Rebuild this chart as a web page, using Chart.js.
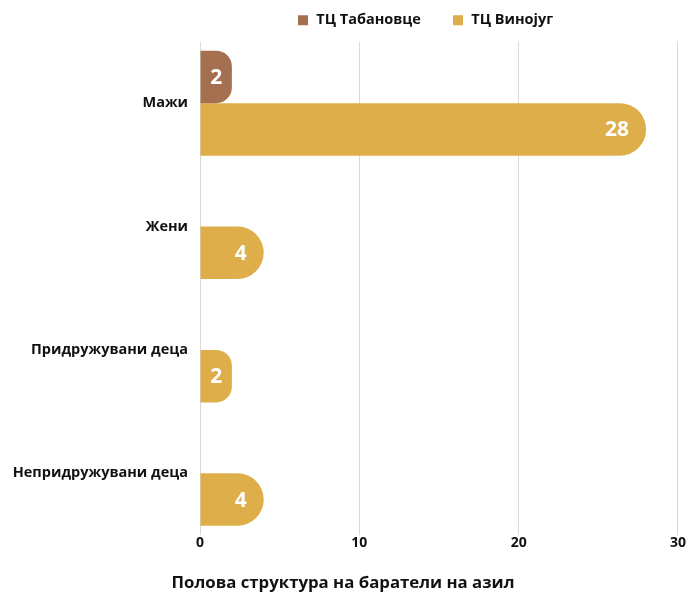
<!DOCTYPE html>
<html>
<head>
<meta charset="utf-8">
<script src="https://cdn.jsdelivr.net/npm/chart.js@4.4.1/dist/chart.umd.min.js"></script>
<style>
  body { margin: 0; background: #fff; }
  #wrap { width: 686px; height: 594px; position: relative; }
</style>
</head>
<body>
<div id="wrap"><canvas id="genderChart"></canvas></div>
<script>
// categories (y axis)
var categories = ['Мажи', 'Жени', 'Придружувани деца', 'Непридружувани деца'];

// series
var seriesNames = ['ТЦ Табановце', 'ТЦ Винојуг'];
var tabanovceValues = [2, null, null, null];
var vinojugValues = [28, 4, 2, 4];

// x axis ticks
var xTicks = [0, 10, 20, 30];

var colors = ['#a5704f', '#ddae4a'];

Chart.defaults.font.family = "'Open Sans', sans-serif";
Chart.defaults.color = '#111';

// white value labels inside the bar ends
var valueLabels = {
    id: 'valueLabels',
    afterDatasetsDraw: function(chart) {
        var ctx = chart.ctx;
        ctx.save();
        ctx.font = "bold 21px 'Open Sans', sans-serif";
        ctx.fillStyle = '#fff';
        ctx.textBaseline = 'middle';
        chart.data.datasets.forEach(function(ds, i) {
            var meta = chart.getDatasetMeta(i);
            meta.data.forEach(function(bar, j) {
                var v = ds.data[j];
                if (v === null || v === undefined) return;
                var w = bar.x - bar.base;
                if (w > 50) {
                    ctx.textAlign = 'right';
                    ctx.fillText(v, bar.x - 17, bar.y + 1);
                } else {
                    ctx.textAlign = 'center';
                    ctx.fillText(v, (bar.x + bar.base) / 2, bar.y + 1);
                }
            });
        });
        ctx.restore();
    }
};

// legend starts at x=297 like the original, text line at y=20
var legendPlace = {
    id: 'legendPlace',
    afterLayout: function(chart) {
        var lg = chart.legend;
        if (!lg || !lg.lineWidths) return;
        var p = lg.options.labels.padding;
        var dx = (594 - lg.left - lg.right - p + lg.lineWidths[0]) / 2;
        lg.left += dx;
        lg.right += dx;
        lg.top -= 4;
        lg.bottom -= 4;
    }
};

var ctx = document.getElementById('genderChart');
new Chart(ctx, {
    type: 'bar',
    data: {
        labels: categories,
        datasets: [{
            label: seriesNames[0],
            data: tabanovceValues,
            backgroundColor: colors[0],
            borderRadius: { topRight: 100, bottomRight: 100, topLeft: 0, bottomLeft: 0 },
            borderSkipped: 'start',
            categoryPercentage: 0.85,
            barPercentage: 1
        }, {
            label: seriesNames[1],
            data: vinojugValues,
            backgroundColor: colors[1],
            borderRadius: { topRight: 100, bottomRight: 100, topLeft: 0, bottomLeft: 0 },
            borderSkipped: 'start',
            categoryPercentage: 0.85,
            barPercentage: 1
        }]
    },
    options: {
        indexAxis: 'y',
        responsive: true,
        maintainAspectRatio: false,
        animation: false,
        layout: { padding: { top: 8.5, left: 0, right: 0, bottom: 0 } },
        scales: {
            x: {
                min: xTicks[0],
                max: xTicks[xTicks.length - 1],
                afterBuildTicks: function(scale) {
                    scale.ticks = xTicks.map(function(v) { return { value: v }; });
                },
                grid: { color: '#d9d9d9', lineWidth: 1, drawTicks: false },
                border: { display: false },
                ticks: {
                    padding: 0,
                    color: '#111',
                    font: { size: 14, weight: 'bold' }
                }
            },
            y: {
                grid: { display: false, drawTicks: false },
                border: { display: false },
                afterFit: function(scale) { scale.width = 200; },
                ticks: {
                    padding: 12,
                    color: '#111',
                    font: { size: 14.5, weight: 'bold' }
                }
            }
        },
        plugins: {
            legend: {
                position: 'top',
                align: 'center',
                labels: {
                    usePointStyle: true,
                    pointStyle: 'rect',
                    boxWidth: 12,
                    boxHeight: 10,
                    padding: 8.5,
                    color: '#111',
                    font: { size: 14.5, weight: 'bold' },
                    // trailing spaces give the wider gap between the two items
                    generateLabels: function(chart) {
                        var items = Chart.defaults.plugins.legend.labels.generateLabels(chart);
                        items.forEach(function(it) { it.text = it.text + '      '; });
                        return items;
                    }
                }
            },
            title: {
                display: true,
                position: 'bottom',
                text: 'Полова структура на баратели на азил',
                color: '#111',
                font: { size: 16.8, weight: 'bold' },
                padding: { top: 21, bottom: 1 }
            },
            tooltip: { enabled: false }
        }
    },
    plugins: [valueLabels, legendPlace]
});
</script>
</body>
</html>
